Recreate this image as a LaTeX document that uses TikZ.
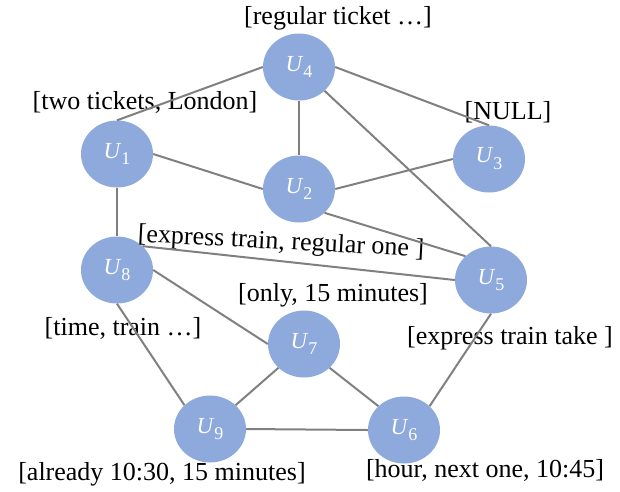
\documentclass[tikz,border=0pt]{standalone}
\usepackage{fontspec}
\setmainfont{Liberation Serif}
\usepackage{tikz}
\usetikzlibrary{shapes.geometric}

\definecolor{nodeblue}{RGB}{142,169,219}
\definecolor{edgegray}{RGB}{128,128,128}

\newcommand{\unode}[1]{\textit{U}\raisebox{-0.3em}{\fontsize{18}{18}\selectfont #1}}

\begin{document}
\begin{tikzpicture}[x=1pt, y=-1pt,
  user/.style={ellipse, fill=nodeblue, text=white, minimum width=72pt, minimum height=67pt, inner sep=0pt, font=\fontsize{23}{23}\selectfont},
  words/.style={inner sep=0pt, font=\fontsize{26}{28}\selectfont},
  link/.style={draw=edgegray, line width=2pt}]

\useasboundingbox (0,0) rectangle (620,491);

% users
\node[user] (U4) at (299,67) {\unode{4}};
\node[user] (U1) at (117,154) {\unode{1}};
\node[user] (U2) at (299,189) {\unode{2}};
\node[user] (U3) at (489,159) {\unode{3}};
\node[user] (U8) at (117,270) {\unode{8}};
\node[user] (U5) at (491,280) {\unode{5}};
\node[user] (U7) at (304,344) {\unode{7}};
\node[user] (U9) at (210,429) {\unode{9}};
\node[user] (U6) at (404,430) {\unode{6}};

% keywords
\node[words] (W4) at (338,18) {[regular ticket …]};
\node[words] (W1) at (145,102) {[two tickets, London]};
\node[words] (W3) at (508,112) {[NULL]};
\node[words, rotate=-3] (W2) at (281,243) {[express train, regular one ]};
\node[words] (W7) at (333,295) {[only, 15 minutes]};
\node[words] (W8) at (123,328) {[time, train …]};
\node[words] (W5) at (510,338) {[express train take ]};
\node[words] (W9) at (162,474) {[already 10:30, 15 minutes]};
\node[words] (W6) at (485,470) {[hour, next one, 10:45]};

% links
\draw[link] (U1.north) -- (U4.west);
\draw[link] (U4.east) -- (U3.north);
\draw[link] (U4.south) -- (U2.north);
\draw[link] (U1.east) -- (U2.west);
\draw[link] (U2.east) -- (U3.west);
\draw[link] (U4.south east) -- (U5.north);
\draw[link] (U2.south east) -- (U5.north west);
\draw[link] (U1.south) -- (U8.north);
\draw[link] (U8.north east) -- (U5.west);
\draw[link] (U8.east) -- (U7.west);
\draw[link] (U8.south) -- (U9.north west);
\draw[link] (U7.south west) -- (U9.north east);
\draw[link] (U7.south east) -- (U6.north west);
\draw[link] (U9.east) -- (U6.west);
\draw[link] (U5.south) -- (U6.north east);

\end{tikzpicture}
\end{document}
